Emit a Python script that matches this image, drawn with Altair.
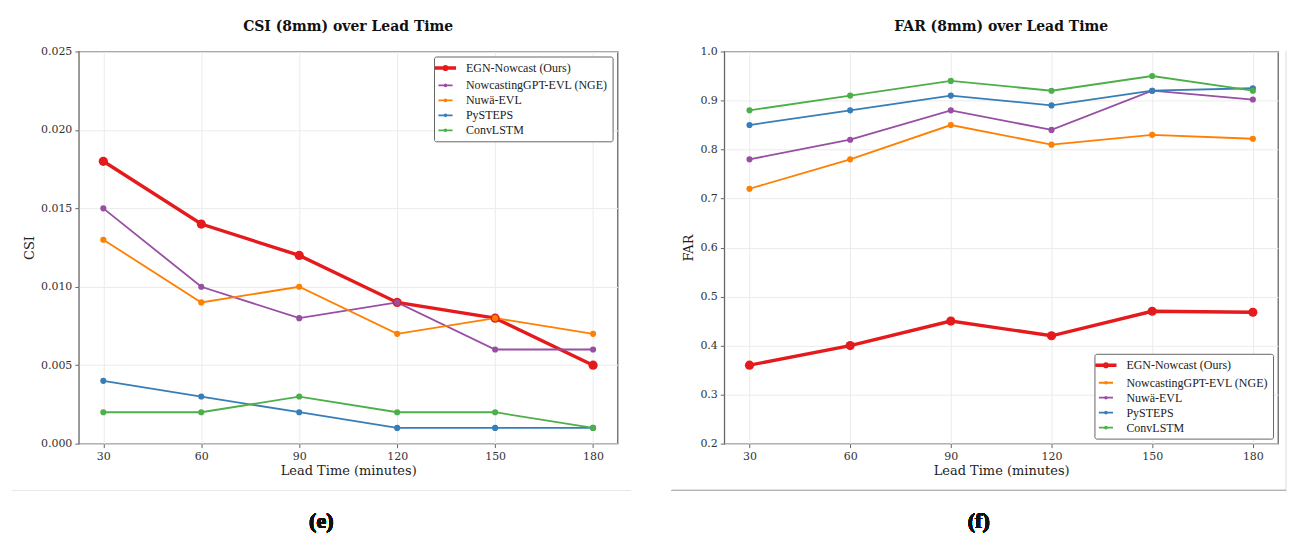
import altair as alt
import pandas as pd

lead = [30, 60, 90, 120, 150, 180]
series = ["EGN-Nowcast (Ours)", "NowcastingGPT-EVL (NGE)", "Nuwä-EVL", "PySTEPS", "ConvLSTM"]

csi_egn = [0.018, 0.014, 0.012, 0.009, 0.008, 0.005]
csi_nge = [0.015, 0.010, 0.008, 0.009, 0.006, 0.006]
csi_nuwa = [0.013, 0.009, 0.010, 0.007, 0.008, 0.007]
csi_pysteps = [0.004, 0.003, 0.002, 0.001, 0.001, 0.001]
csi_convlstm = [0.002, 0.002, 0.003, 0.002, 0.002, 0.001]

far_egn = [0.36, 0.40, 0.45, 0.42, 0.47, 0.468]
far_nge = [0.72, 0.78, 0.85, 0.81, 0.83, 0.822]
far_nuwa = [0.78, 0.82, 0.88, 0.84, 0.92, 0.902]
far_pysteps = [0.85, 0.88, 0.91, 0.89, 0.92, 0.925]
far_convlstm = [0.88, 0.91, 0.94, 0.92, 0.95, 0.92]

RED, PURPLE, ORANGE, BLUE, GREEN = "#e41a1c", "#984ea3", "#ff7f00", "#377eb8", "#4daf4a"
csi_colors = [RED, PURPLE, ORANGE, BLUE, GREEN]
far_colors = [RED, ORANGE, PURPLE, BLUE, GREEN]
stroke_widths = [3.4, 1.8, 1.8, 1.8, 1.8]
point_sizes = [85, 38, 38, 38, 38]

csi_ticks = [0.0, 0.005, 0.010, 0.015, 0.020, 0.025]
far_ticks = [0.2, 0.3, 0.4, 0.5, 0.6, 0.7, 0.8, 0.9, 1.0]


def long_df(values):
    rows = []
    for name, vals in zip(series, values):
        for t, v in zip(lead, vals):
            rows.append({"lead": t, "value": v, "series": name})
    return pd.DataFrame(rows)


csi_df = long_df([csi_egn, csi_nge, csi_nuwa, csi_pysteps, csi_convlstm])
far_df = long_df([far_egn, far_nge, far_nuwa, far_pysteps, far_convlstm])

SYMBOL = "M-2.3,0L2.3,0M-0.3,0A0.3,0.3 0 1,1 0.3,0A0.3,0.3 0 1,1 -0.3,0Z"


def panel(df, colors, title, ytitle, ydomain, yticks, yfmt, legend_orient,
          width, caption, cap_x, rule_x, rule_x2, rule_color, vline=False):
    legend = alt.Legend(
        title=None, orient=legend_orient, offset=5,
        symbolType=SYMBOL, symbolSize=100,
        labelFont="Liberation Serif", labelFontSize=12, labelColor="#222222",
        labelOffset=14,
        strokeColor="#666666", fillColor="white", padding=5, cornerRadius=2,
        rowPadding=3, labelLimit=400,
    )
    x = alt.X("lead:Q", title="Lead Time (minutes)",
              scale=alt.Scale(domain=[22.5, 187.5], nice=False, zero=False),
              axis=alt.Axis(values=lead, format="d"))
    y = alt.Y("value:Q", title=ytitle,
              scale=alt.Scale(domain=ydomain, nice=False, zero=False),
              axis=alt.Axis(values=yticks, format=yfmt))
    lines = alt.Chart(df).mark_line().encode(
        x=x, y=y,
        stroke=alt.Stroke("series:N", sort=series,
                          scale=alt.Scale(domain=series, range=colors), legend=legend),
        strokeWidth=alt.StrokeWidth("series:N", sort=series,
                                    scale=alt.Scale(type="ordinal", domain=series,
                                                    range=stroke_widths),
                                    legend=legend),
    )
    points = alt.Chart(df).mark_point(filled=True, opacity=1).encode(
        x=x, y=y,
        fill=alt.Fill("series:N", sort=series,
                      scale=alt.Scale(domain=series, range=colors), legend=None),
        size=alt.Size("series:N", sort=series,
                      scale=alt.Scale(type="ordinal", domain=series, range=point_sizes),
                      legend=None),
    )
    rule = alt.Chart(df).mark_rule(color=rule_color, strokeWidth=1).encode(
        x=alt.value(rule_x), x2=alt.value(rule_x2), y=alt.value(440))
    cap = alt.Chart(df).mark_text(
        text=caption, font="Liberation Serif", fontSize=22, fontWeight="bold",
        color="#111111", baseline="middle", align="center").encode(
        x=alt.value(cap_x), y=alt.value(471))
    layers = [rule, lines, points, cap]
    if vline:
        vl = alt.Chart(df).mark_rule(color="#eeeeee", strokeWidth=1).encode(
            x=alt.value(rule_x2), y=alt.value(0), y2=alt.value(440))
        layers.insert(0, vl)
    return alt.layer(*layers).properties(
        width=width, height=393,
        title=alt.TitleParams(title, font="DejaVu Serif", fontSize=14,
                              fontWeight="bold", color="#111111", offset=12,
                              frame="group"),
    )


left = panel(csi_df, csi_colors, "CSI (8mm) over Lead Time", "CSI", [0, 0.025],
             csi_ticks, ".3f", "top-right", 540, "(e)", 243, -67, 553, "#e8e8e8")
right = panel(far_df, far_colors, "FAR (8mm) over Lead Time", "FAR", [0.2, 1.0],
              far_ticks, ".1f", "bottom-right", 555, "(f)", 255, -53, 563, "#b5b5b5",
              vline=True)

chart = alt.hconcat(left, right, spacing=37).resolve_scale(
    x="independent", y="independent", stroke="independent", fill="independent",
    strokeWidth="independent", size="independent",
).resolve_legend(
    stroke="independent", fill="independent", strokeWidth="independent", size="independent",
).configure(
    padding={"left": 2, "top": 10, "right": 0, "bottom": 0},
    background="white",
).configure_view(
    stroke="#666666", strokeWidth=1.3,
).configure_axis(
    labelFont="DejaVu Serif", labelFontSize=11, labelColor="#333333",
    titleFont="DejaVu Serif", titleFontSize=13, titleColor="#222222",
    titleFontWeight="normal",
    domain=False, tickColor="#666666", tickSize=4, tickWidth=1,
    gridColor="#ebebeb", gridWidth=1, labelPadding=3,
).configure_axisX(
    titlePadding=3,
).configure_axisY(
    titlePadding=4,
)

chart.save("out.html", embed_options={"renderer": "svg", "actions": False})
